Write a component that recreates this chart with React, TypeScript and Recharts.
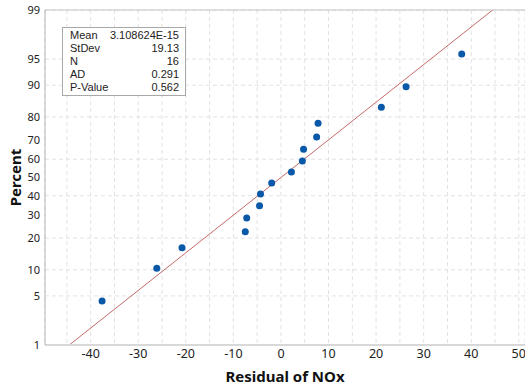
import React from "react";
import {
  ScatterChart,
  Scatter,
  XAxis,
  YAxis,
  CartesianGrid,
  ReferenceLine,
} from "recharts";

// residuals, with their plotting percentages
const residuals = [-37.6, -26.1, -20.8, -7.5, -7.2, -4.5, -4.3, -1.95, 2.2, 4.5, 4.75, 7.5, 7.8, 21.1, 26.3, 38.0];
const percents = [4.3, 10.4, 16.5, 22.6, 28.7, 34.8, 40.9, 47.0, 53.0, 59.1, 65.2, 71.3, 77.4, 83.5, 89.6, 95.7];

const percentTicks = [1, 5, 10, 20, 30, 40, 50, 60, 70, 80, 90, 95, 99];
const xTicks = [-45, -40, -35, -30, -25, -20, -15, -10, -5, 0, 5, 10, 15, 20, 25, 30, 35, 40, 45, 50];

// fitted line end points (percent 1 .. 99)
const fitLine = [
  { x: -44.5, p: 1 },
  { x: 44.5, p: 99 },
];

const stats = [
  { label: "Mean", value: "3.108624E-15" },
  { label: "StDev", value: "19.13" },
  { label: "N", value: "16" },
  { label: "AD", value: "0.291" },
  { label: "P-Value", value: "0.562" },
];

// inverse normal CDF (Acklam) -> probability scale
const invNorm = (p: number) => {
  const a = [-39.69683028665376, 220.9460984245205, -275.9285104469687, 138.357751867269, -30.66479806614716, 2.506628277459239];
  const b = [-54.47609879822406, 161.5858368580409, -155.6989798598866, 66.80131188771972, -13.28068155288572];
  const c = [-0.007784894002430293, -0.3223964580411365, -2.400758277161838, -2.549732539343734, 4.374664141464968, 2.938163982698783];
  const d = [0.007784695709041462, 0.3224671290700398, 2.445134137142996, 3.754408661907416];
  const pl = 0.02425;
  if (p < pl) {
    const q = Math.sqrt(-2 * Math.log(p));
    return (((((c[0] * q + c[1]) * q + c[2]) * q + c[3]) * q + c[4]) * q + c[5]) / ((((d[0] * q + d[1]) * q + d[2]) * q + d[3]) * q + 1);
  }
  if (p > 1 - pl) {
    const q = Math.sqrt(-2 * Math.log(1 - p));
    return -(((((c[0] * q + c[1]) * q + c[2]) * q + c[3]) * q + c[4]) * q + c[5]) / ((((d[0] * q + d[1]) * q + d[2]) * q + d[3]) * q + 1);
  }
  const q = p - 0.5;
  const r = q * q;
  return ((((((a[0] * r + a[1]) * r + a[2]) * r + a[3]) * r + a[4]) * r + a[5]) * q) / (((((b[0] * r + b[1]) * r + b[2]) * r + b[3]) * r + b[4]) * r + 1);
};

const z = (pct: number) => invNorm(pct / 100);

const points = residuals.map((x, i) => ({ x, z: z(percents[i]) }));
const yTicks = percentTicks.map(z);
const zMax = z(99);

const font = "'Noto Sans', 'Open Sans', sans-serif";
const boxFont = "'Liberation Sans', Arial, sans-serif";

export default function App() {
  return (
    <div style={{ position: "fixed", left: 0, top: 0, width: 525, height: 385, background: "#fff", fontFamily: font }}>
      <ScatterChart width={525} height={385} margin={{ top: 10, right: 0, left: 0, bottom: 0 }}>
        <CartesianGrid stroke="#e2e2e2" strokeDasharray="4 3" />
        <XAxis
          type="number"
          dataKey="x"
          domain={[-49.6, 51.3]}
          ticks={xTicks}
          tickFormatter={(v: number) => (v % 10 === 0 ? String(v) : "")}
          tickLine={false}
          tickSize={2}
          axisLine={{ stroke: "#d8d8d8", strokeWidth: 2 }}
          tick={{ fill: "#222", fontSize: 12.5, fontFamily: font }}
          height={40}
          allowDataOverflow
          label={{ value: "Residual of NOx", position: "insideBottom", offset: 3, fill: "#111", fontSize: 15, fontWeight: "bold", fontFamily: font }}
        />
        <YAxis
          type="number"
          dataKey="z"
          domain={[-zMax, zMax]}
          ticks={yTicks}
          tickFormatter={(v: number) => {
            const i = yTicks.findIndex((t) => Math.abs(t - v) < 1e-6);
            return i >= 0 ? String(percentTicks[i]) : "";
          }}
          tickLine={false}
          tickSize={3}
          axisLine={{ stroke: "#b4b4b4" }}
          tick={{ fill: "#222", fontSize: 11, fontFamily: font }}
          width={45}
          allowDataOverflow
          label={{ value: "Percent", angle: -90, position: "insideLeft", offset: 16, fill: "#111", fontSize: 15, fontWeight: "bold", fontFamily: font, style: { textAnchor: "middle" } }}
        />
        <ReferenceLine y={zMax} stroke="#c4c4c4" />
        <ReferenceLine
          segment={fitLine.map((f) => ({ x: f.x, y: z(f.p) }))}
          stroke="#c46a6a"
          strokeWidth={1}
          ifOverflow="hidden"
        />
        <Scatter data={points} fill="#0a58a8" isAnimationActive={false} shape={(p: any) => <circle cx={p.cx} cy={p.cy} r={3.5} fill="#0a58a8" />} />
      </ScatterChart>
      <div
        style={{
          position: "absolute",
          left: 62,
          top: 27,
          width: 109,
          height: 65,
          padding: "1px 6px 1px 7px",
          border: "1px solid #a8a8a8",
          background: "#fff",
          fontFamily: boxFont,
          fontSize: 11,
          lineHeight: "13px",
          color: "#222",
        }}
      >
        {stats.map((s) => (
          <div key={s.label} style={{ display: "flex", justifyContent: "space-between", height: 13 }}>
            <span>{s.label}</span>
            <span>{s.value}</span>
          </div>
        ))}
      </div>
    </div>
  );
}
